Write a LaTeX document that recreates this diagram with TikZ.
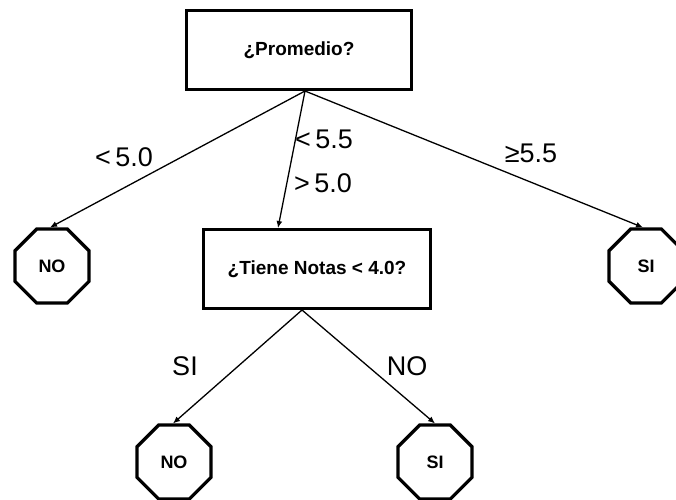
\documentclass[tikz,border=0pt]{standalone}
\usepackage{fontspec}
\setmainfont{Liberation Sans}
\usetikzlibrary{shapes.geometric,arrows.meta}
\begin{document}
\begin{tikzpicture}[x=1pt,y=-1pt,
  qbox/.style={draw=black,line width=3pt,fill=white,minimum width=225pt,minimum height=79pt,inner sep=0pt,
     font=\fontsize{19}{22}\selectfont\bfseries},
  leaf/.style={draw=black,line width=3.2pt,fill=white,regular polygon,regular polygon sides=8,minimum size=80pt,inner sep=0pt,
     font=\fontsize{18}{21}\selectfont\bfseries},
  conn/.style={line width=1.3pt,-{Latex[length=7pt,width=6pt]}},
  elab/.style={font=\fontsize{27}{31}\selectfont,inner sep=0pt}]
\useasboundingbox (0,0) rectangle (676,499);
\clip (0,0) rectangle (676,499);
\node[qbox] (top) at (299,50) {¿Promedio?};
\node[qbox,minimum width=227pt] (q2) at (317,269) {¿Tiene Notas < 4.0?};
\node[leaf] (no1) at (52,266) {NO};
\node[leaf] (si1) at (646,266) {SI};
\node[leaf] (no2) at (174,462) {NO};
\node[leaf] (si2) at (435,462) {SI};
\coordinate (a1) at ([xshift=6pt]top.south);
\coordinate (a2) at ([xshift=-15pt]q2.south);
\draw[conn] (a1) -- ([xshift=-2pt]no1.north);
\draw[conn] (a1) -- ([xshift=-39pt]q2.north);
\draw[conn] (a1) -- ([xshift=-3pt]si1.north);
\draw[conn] (a2) -- ([xshift=-1pt]no2.north);
\draw[conn] (a2) -- (si2.north);
\node[elab] (l1) at (124,157) {<\,5.0};
\node[elab] (l2) at (324,139) {<\,5.5};
\node[elab] (l3) at (323,183) {>\,5.0};
\node[elab] (l4) at (531,153) {≥5.5};
\node[elab] (l5) at (185,366) {SI};
\node[elab] (l6) at (407,366) {NO};
\end{tikzpicture}
\end{document}
